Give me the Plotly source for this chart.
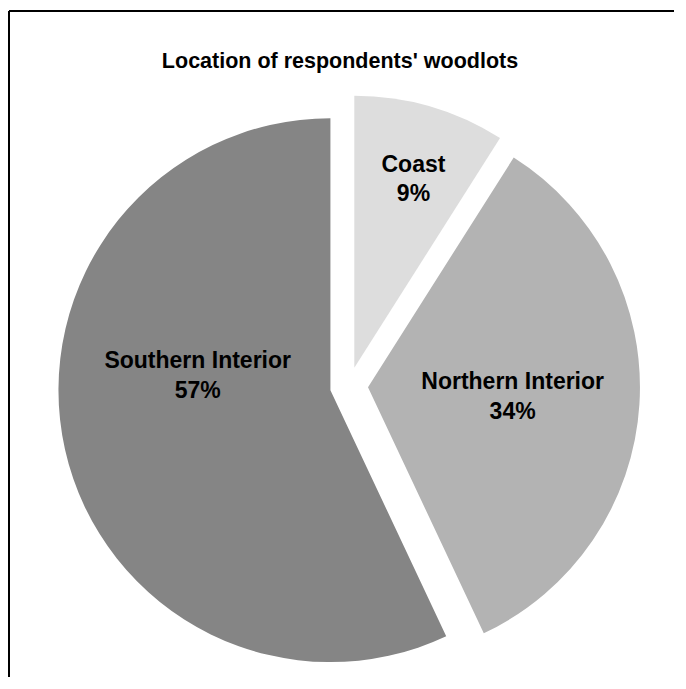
import plotly.graph_objects as go

# Data
regions = ["Coast", "Northern Interior", "Southern Interior"]
shares = [9, 34, 57]
colors = ["#DDDDDD", "#B3B3B3", "#858585"]
title_text = "Location of respondents' woodlots"

FONT = "Liberation Sans, Arial, sans-serif"
NB = "\u00a0"
# per-slice label templates (blank padding lines nudge the label position)
templates = [
    NB + "<br>%{label}<br>%{percent}",
    "%{label}<br>%{percent}",
    "%{label}<br>%{percent}<br>" + NB + "<br>" + NB + "<br>" + NB,
]

# page body has an 8px default margin: figure sized to fit inside the window
OFF = 8
L, T = 58 - OFF, 95 - OFF
PW = PH = 582
W, H = L + PW + 34, T + PH
R = W - L - PW
B = H - T - PH

# chart frame (top and left edges visible), kept inside the figure
fx0 = (9 - OFF - L) / PW
fx1 = (W - L) / PW
fy1 = 1 + (T - (11 - OFF)) / PH
fy0 = -B / PH

fig = go.Figure(
    go.Pie(
        labels=regions,
        values=shares,
        sort=False,
        direction="clockwise",
        rotation=0,
        pull=[0.07] * len(shares),
        marker=dict(colors=colors, line=dict(width=0)),
        texttemplate=templates,
        textposition="inside",
        insidetextorientation="horizontal",
        textfont=dict(family=FONT, size=23, color="black", weight="bold"),
        hoverinfo="label+percent",
        showlegend=False,
    )
)

frame_line = dict(color="black", width=2)
fig.update_layout(
    width=W,
    height=H,
    autosize=False,
    margin=dict(l=L, r=R, t=T, b=B, pad=0),
    paper_bgcolor="white",
    plot_bgcolor="white",
    title=dict(
        text=title_text,
        x=(340 - OFF) / W,
        xanchor="center",
        xref="container",
        y=1 - (60 - OFF) / H,
        yanchor="middle",
        yref="container",
        font=dict(family=FONT, size=21.5, color="black", weight="bold"),
    ),
    shapes=[
        dict(type="line", xref="paper", yref="paper",
             x0=fx0, x1=fx1, y0=fy1, y1=fy1, line=frame_line, layer="below"),
        dict(type="line", xref="paper", yref="paper",
             x0=fx0, x1=fx0, y0=fy0, y1=fy1, line=frame_line, layer="below"),
    ],
)

fig.write_html("out.html")
